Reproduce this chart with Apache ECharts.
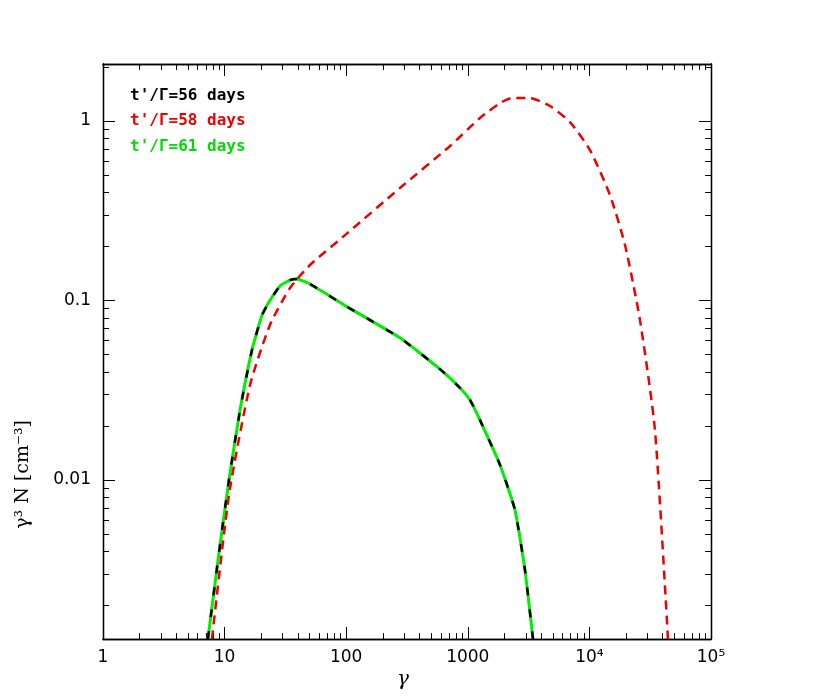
<!DOCTYPE html>
<html><head><meta charset="utf-8">
<script src="https://cdn.jsdelivr.net/npm/echarts@6/dist/echarts.min.js"></script>
<style>html,body{margin:0;background:#fff}#c{width:830px;height:698px}</style>
</head><body><div id="c"></div>
<script>
// log10 positions
var greenX = [0.863,0.946,1.036,1.127,1.225,1.308,1.373,1.456,1.538,1.595,1.702,1.998,2.442,2.771,2.936,3.018,3.1,3.265,3.388,3.47,3.536];
var greenY = [-2.886,-2.446,-2.0,-1.61,-1.276,-1.081,-1.0,-0.919,-0.886,-0.880,-0.908,-1.031,-1.208,-1.382,-1.487,-1.554,-1.666,-1.916,-2.167,-2.501,-2.886];
var redX = [0.896,1.036,1.209,1.373,1.538,1.702,2.0,2.442,2.854,3.1,3.265,3.363,3.511,3.676,3.84,4.005,4.169,4.293,4.416,4.539,4.646];
var redY = [-2.886,-2.084,-1.471,-1.136,-0.930,-0.802,-0.630,-0.373,-0.139,0.017,0.1,0.128,0.128,0.084,-0.006,-0.162,-0.412,-0.691,-1.109,-1.721,-2.886];
var xTickLabels = ['1','10','100','1000','10⁴','10⁵'];
var yTickLabels = {'-2':'0.01','-1':'0.1','0':'1'};
var xMin = 0, xMax = 5, yMin = -2.886, yMax = 0.318;

function zip(a,b){ return a.map(function(v,i){ return [v,b[i]]; }); }
var xMajor = [0,1,2,3,4,5], xMinor = [];
for (var d = 0; d < 5; d++) for (var k = 2; k < 10; k++) xMinor.push(d + Math.log10(k));
var yMajor = [-2,-1,0], yMinor = [];
for (var d = -3; d < 1; d++) for (var k = 2; k < 10; k++) {
    var v = d + Math.log10(k);
    if (v > yMin && v < yMax) yMinor.push(v);
}

function xAx(pos, ticks, len, labels){
    return {type:'value', position:pos, min:xMin, max:xMax,
        axisLine:{show:true, onZero:false, lineStyle:{color:'#000', width:1.3}},
        axisTick:{show:true, inside:true, length:len, customValues:ticks, lineStyle:{color:'#000'}},
        axisLabel:{show:labels, customValues:xMajor, margin:10, color:'#000', fontSize:17, fontFamily:'DejaVu Sans',
            formatter:function(v){ return xTickLabels[Math.round(v)]; }},
        splitLine:{show:false}};
}
function yAx(pos, ticks, len, labels){
    return {type:'value', position:pos, min:yMin, max:yMax,
        axisLine:{show:true, onZero:false, lineStyle:{color:'#000', width:1.3}},
        axisTick:{show:true, inside:true, length:len, customValues:ticks, lineStyle:{color:'#000'}},
        axisLabel:{show:labels, customValues:yMajor, margin:12, color:'#000', fontSize:17, fontFamily:'DejaVu Sans',
            formatter:function(v){ return yTickLabels[Math.round(v)]; }},
        splitLine:{show:false}};
}

var chart = echarts.init(document.getElementById('c'));
chart.setOption({
    animation:false,
    grid:{left:103, top:64, right:119, bottom:59},
    xAxis:[xAx('bottom',xMajor,12,true), xAx('bottom',xMinor,6,false), xAx('top',xMajor,12,false), xAx('top',xMinor,6,false)],
    yAxis:[yAx('left',yMajor,12,true), yAx('left',yMinor,6,false), yAx('right',yMajor,12,false), yAx('right',yMinor,6,false)],
    series:[
        {type:'line', data:zip(greenX,greenY), smooth:0.15, showSymbol:false, lineStyle:{color:'#00ee00', width:3}},
        {type:'line', data:zip(greenX,greenY), smooth:0.15, showSymbol:false, lineStyle:{color:'#000', width:2.5, type:[8,14]}},
        {type:'line', data:zip(redX,redY), smooth:0.2, showSymbol:false, lineStyle:{color:'#ee0000', width:2.5, type:[9,6]}}
    ],
    graphic:[
        {type:'text', left:130, top:88, style:{text:"t'/Γ=56 days", fill:'#000', font:'bold 16px "DejaVu Sans Mono"'}},
        {type:'text', left:130, top:113, style:{text:"t'/Γ=58 days", fill:'#ee0000', font:'bold 16px "DejaVu Sans Mono"'}},
        {type:'text', left:130, top:139, style:{text:"t'/Γ=61 days", fill:'#00dd00', font:'bold 16px "DejaVu Sans Mono"'}},
        {type:'text', left:397, top:670, style:{text:'γ', fill:'#000', font:'italic 20px "DejaVu Serif"'}},
        {type:'text', left:14, top:420, rotation:Math.PI/2, style:{text:'γ³ N [cm⁻³]', fill:'#000', font:'19px "DejaVu Serif"'}}
    ]
});
</script></body></html>
